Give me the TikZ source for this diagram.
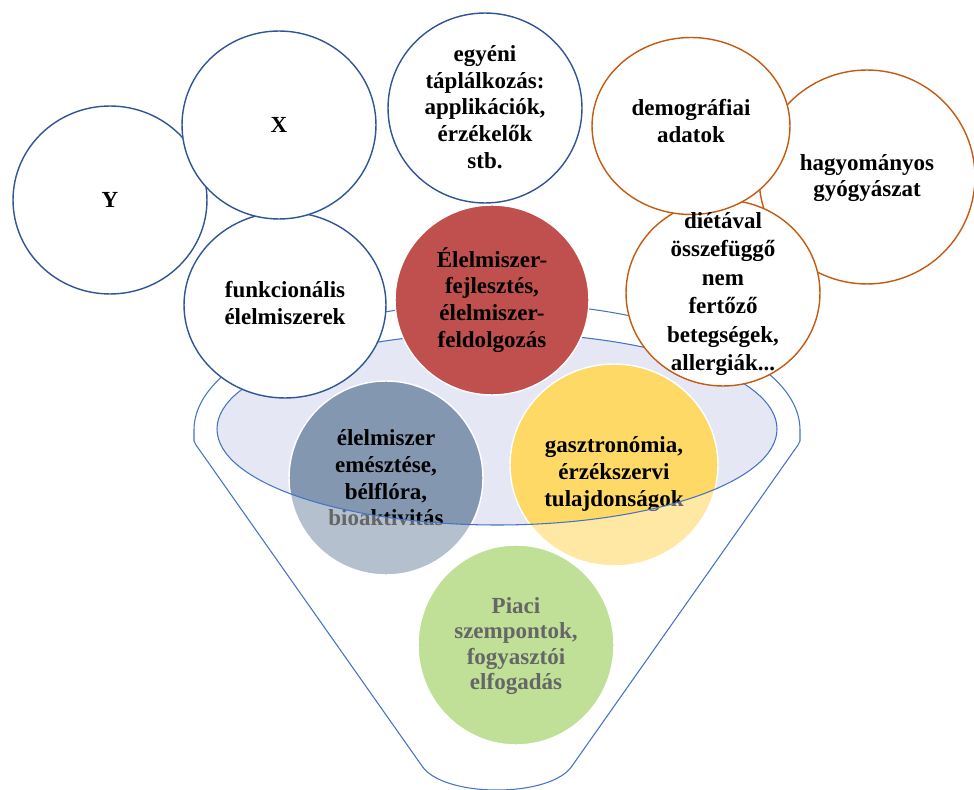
\documentclass[tikz,border=0pt]{standalone}
\usepackage{fontspec}
\setmainfont{Liberation Serif}
\usepackage{tikz}
\usetikzlibrary{shapes.geometric}
\definecolor{navyline}{RGB}{47,85,151}
\definecolor{rustline}{RGB}{197,90,17}
\definecolor{funnelblue}{RGB}{68,114,196}
\definecolor{rimfill}{RGB}{229,232,244}
\definecolor{fejlred}{RGB}{192,80,77}
\definecolor{slatefill}{RGB}{132,151,176}
\definecolor{goldfill}{RGB}{255,217,102}
\definecolor{piacigreen}{RGB}{150,204,82}

\begin{document}
\begin{tikzpicture}[
        x=0.02cm, y=-0.02cm,
        every node/.style={font=\fontsize{13.1}{15.2}\selectfont\bfseries, align=center},
        bubble/.style={ellipse, draw, line width=0.8pt, fill=white, inner sep=0pt},
        blob/.style={ellipse, draw=white, line width=0.8pt, inner sep=0pt},
    ]
        \useasboundingbox (0,0) rectangle (974,790);

        % funnel mouth
        \fill[rimfill] (497,429) ellipse[x radius=280, y radius=96];

        % blobs sinking into the funnel
        \node[blob, fill=slatefill, minimum width=3.88cm, minimum height=3.88cm] (emeszt) at (386,478) {};
        \node (emeszt-t) at (emeszt) {élelmiszer\\emésztése,\\bélflóra,\\bioaktivitás};
        \node[blob, fill=goldfill, minimum width=4.16cm, minimum height=4.04cm] (gasztro) at (614,465) {};
        \node (gasztro-t) at (614,474) {gasztronómia,\\érzékszervi\\tulajdonságok};
        \node[blob, fill=piacigreen, minimum width=3.92cm, minimum height=4cm] (piaci) at (516,645) {};
        \node[font=\fontsize{13.1}{14.4}\selectfont\bfseries] (piaci-t) at (516,646) {Piaci\\szempontok,\\fogyasztói\\elfogadás};

        % funnel body, washed over everything below the mouth
        \path[draw=funnelblue, line width=0.6pt, fill=white, fill opacity=0.4, even odd rule]
            (194,430) arc[start angle=180, end angle=360, x radius=303, y radius=127]
            -- (800,441) -- (798,445) -- (572,766)
            .. controls (562,781) and (532,790) .. (497,790)
            .. controls (462,790) and (432,781) .. (422,766)
            -- (196,445) -- (194,441) -- cycle
            (497,429) ellipse[x radius=280, y radius=96];

        % input bubbles
        \node[bubble, draw=navyline, minimum width=3.88cm, minimum height=3.76cm] (ybub) at (110,200) {};
        \node (ybub-t) at (ybub) {Y};
        \node[bubble, draw=navyline, minimum width=4.04cm, minimum height=3.72cm] (funk) at (285,305) {};
        \node (funk-t) at (285,303) {funkcionális\\élelmiszerek};
        \node[bubble, draw=navyline, minimum width=3.88cm, minimum height=3.76cm] (xbub) at (279,125) {};
        \node (xbub-t) at (xbub) {X};
        \node[bubble, draw=navyline, minimum width=3.88cm, minimum height=3.8cm] (egyeni) at (485,108) {};
        \node (egyeni-t) at (485,107) {egyéni\\táplálkozás:\\applikációk,\\érzékelők\\stb.};

        \node[blob, fill=fejlred, minimum width=3.88cm, minimum height=3.8cm] (fejl) at (492,300) {};
        \node (fejl-t) at (fejl) {Élelmiszer-\\fejlesztés,\\élelmiszer-\\feldolgozás};

        \node[bubble, draw=rustline, minimum width=4.32cm, minimum height=4.28cm] (hagy) at (867,177) {};
        \node (hagy-t) at (867,178) {hagyományos\\gyógyászat};
        \node[bubble, draw=rustline, minimum width=3.88cm, minimum height=3.72cm] (dieta) at (723,293) {};
        \node[bubble, draw=rustline, minimum width=3.96cm, minimum height=3.54cm] (demo) at (691,126) {};
        \node (demo-t) at (691,121) {demográfiai\\adatok};
        \node[font=\fontsize{13.1}{16.2}\selectfont\bfseries] (dieta-t) at (723,294) {diétával\\összefüggő\\nem\\fertőző\\betegségek,\\allergiák...};
    \end{tikzpicture}
\end{document}
